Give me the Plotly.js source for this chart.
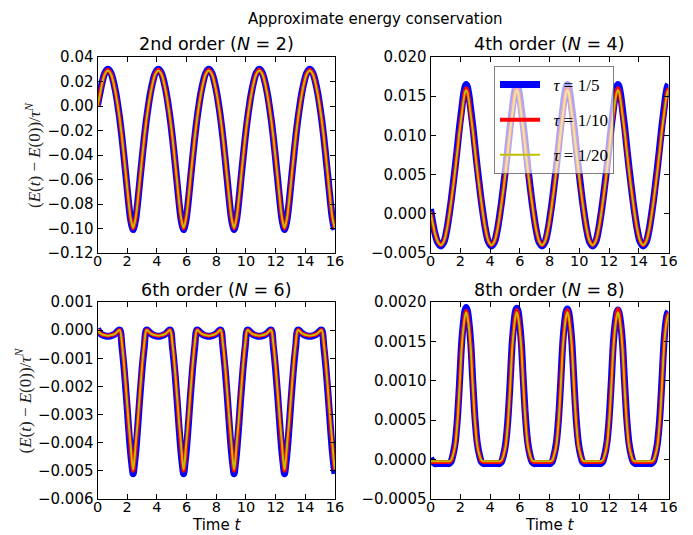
<!DOCTYPE html>
<html><head><meta charset="utf-8">
<script src="https://cdn.plot.ly/plotly-3.0.1.min.js"></script>
<style>html,body{margin:0;padding:0;background:#fff}#chart{width:693px;height:535px}</style>
</head><body><div id="chart"></div>
<script>
// time samples
const time = [0, 0.15, 0.3, 0.5,
0.7, 0.9, 1.1, 1.25, 1.37, 1.5, 1.65, 1.8, 1.95, 2.1, 2.22, 2.32, 2.4, 2.48, 2.58, 2.7, 2.85, 3.0, 3.15, 3.3, 3.43, 3.55, 3.7, 3.9,
4.1, 4.3, 4.5, 4.65, 4.77, 4.9, 5.05, 5.2, 5.35, 5.5, 5.62, 5.72, 5.8, 5.88, 5.98, 6.1, 6.25, 6.4, 6.55, 6.7, 6.83, 6.95, 7.1, 7.3,
7.5, 7.7, 7.9, 8.05, 8.17, 8.3, 8.45, 8.6, 8.75, 8.9, 9.02, 9.12, 9.2, 9.28, 9.38, 9.5, 9.65, 9.8, 9.95, 10.1, 10.23, 10.35, 10.5, 10.7,
10.9, 11.1, 11.3, 11.45, 11.57, 11.7, 11.85, 12.0, 12.15, 12.3, 12.42, 12.52, 12.6, 12.68, 12.78, 12.9, 13.05, 13.2, 13.35, 13.5, 13.63, 13.75, 13.9, 14.1,
14.3, 14.5, 14.7, 14.85, 14.97, 15.1, 15.25, 15.4, 15.55, 15.7, 15.82, 15.92, 16.0];

// 2nd order (N=2)
const n2_tau5 = [0.0008, 0.0098, 0.0186, 0.027,
0.0299, 0.027, 0.0186, 0.0096, 0.0004, -0.0108, -0.0261, -0.0433, -0.0614, -0.0796, -0.0918, -0.098, -0.1009, -0.098, -0.0918, -0.0796, -0.0614, -0.0433, -0.0261, -0.0108, 0.0004, 0.0096, 0.0186, 0.027,
0.0299, 0.027, 0.0186, 0.0096, 0.0004, -0.0108, -0.0261, -0.0433, -0.0614, -0.0796, -0.0918, -0.098, -0.1009, -0.098, -0.0918, -0.0796, -0.0614, -0.0433, -0.0261, -0.0108, 0.0004, 0.0096, 0.0186, 0.027,
0.0299, 0.027, 0.0186, 0.0096, 0.0004, -0.0108, -0.0261, -0.0433, -0.0614, -0.0796, -0.0918, -0.098, -0.1009, -0.098, -0.0918, -0.0796, -0.0614, -0.0433, -0.0261, -0.0108, 0.0004, 0.0096, 0.0186, 0.027,
0.0299, 0.027, 0.0186, 0.0096, 0.0004, -0.0108, -0.0261, -0.0433, -0.0614, -0.0796, -0.0918, -0.098, -0.1009, -0.098, -0.0918, -0.0796, -0.0614, -0.0433, -0.0261, -0.0108, 0.0004, 0.0096, 0.0186, 0.027,
0.0299, 0.027, 0.0186, 0.0096, 0.0004, -0.0108, -0.0261, -0.0433, -0.0614, -0.0796, -0.0918, -0.098, -0.1009];
const n2_tau10 = [0, 0.009, 0.018, 0.0265,
0.0295, 0.0265, 0.018, 0.009, 0, -0.011, -0.026, -0.043, -0.061, -0.079, -0.091, -0.097, -0.1, -0.097, -0.091, -0.079, -0.061, -0.043, -0.026, -0.011, 0, 0.009, 0.018, 0.0265,
0.0295, 0.0265, 0.018, 0.009, 0, -0.011, -0.026, -0.043, -0.061, -0.079, -0.091, -0.097, -0.1, -0.097, -0.091, -0.079, -0.061, -0.043, -0.026, -0.011, 0, 0.009, 0.018, 0.0265,
0.0295, 0.0265, 0.018, 0.009, 0, -0.011, -0.026, -0.043, -0.061, -0.079, -0.091, -0.097, -0.1, -0.097, -0.091, -0.079, -0.061, -0.043, -0.026, -0.011, 0, 0.009, 0.018, 0.0265,
0.0295, 0.0265, 0.018, 0.009, 0, -0.011, -0.026, -0.043, -0.061, -0.079, -0.091, -0.097, -0.1, -0.097, -0.091, -0.079, -0.061, -0.043, -0.026, -0.011, 0, 0.009, 0.018, 0.0265,
0.0295, 0.0265, 0.018, 0.009, 0, -0.011, -0.026, -0.043, -0.061, -0.079, -0.091, -0.097, -0.1];
const n2_tau20 = [-0.0002, 0.0087, 0.0177, 0.0261,
0.029, 0.0261, 0.0177, 0.0087, -0.0002, -0.0111, -0.0259, -0.0428, -0.0607, -0.0786, -0.0905, -0.0965, -0.0995, -0.0965, -0.0905, -0.0786, -0.0607, -0.0428, -0.0259, -0.0111, -0.0002, 0.0087, 0.0177, 0.0261,
0.029, 0.0261, 0.0177, 0.0087, -0.0002, -0.0111, -0.0259, -0.0428, -0.0607, -0.0786, -0.0905, -0.0965, -0.0995, -0.0965, -0.0905, -0.0786, -0.0607, -0.0428, -0.0259, -0.0111, -0.0002, 0.0087, 0.0177, 0.0261,
0.029, 0.0261, 0.0177, 0.0087, -0.0002, -0.0111, -0.0259, -0.0428, -0.0607, -0.0786, -0.0905, -0.0965, -0.0995, -0.0965, -0.0905, -0.0786, -0.0607, -0.0428, -0.0259, -0.0111, -0.0002, 0.0087, 0.0177, 0.0261,
0.029, 0.0261, 0.0177, 0.0087, -0.0002, -0.0111, -0.0259, -0.0428, -0.0607, -0.0786, -0.0905, -0.0965, -0.0995, -0.0965, -0.0905, -0.0786, -0.0607, -0.0428, -0.0259, -0.0111, -0.0002, 0.0087, 0.0177, 0.0261,
0.029, 0.0261, 0.0177, 0.0087, -0.0002, -0.0111, -0.0259, -0.0428, -0.0607, -0.0786, -0.0905, -0.0965, -0.0995];

// 4th order (N=4)
const n4_tau5 = [0.0006, -0.0011, -0.0025, -0.0037,
-0.0041, -0.0036, -0.002, -0.0002, 0.0014, 0.0034, 0.0058, 0.0084, 0.0111, 0.0134, 0.0152, 0.0162, 0.0165, 0.0162, 0.0152, 0.0134, 0.0111, 0.0084, 0.0058, 0.0034, 0.0014, -0.0002, -0.002, -0.0036,
-0.0041, -0.0036, -0.002, -0.0002, 0.0014, 0.0034, 0.0058, 0.0084, 0.0111, 0.0134, 0.0152, 0.0162, 0.0165, 0.0162, 0.0152, 0.0134, 0.0111, 0.0084, 0.0058, 0.0034, 0.0014, -0.0002, -0.002, -0.0036,
-0.0041, -0.0036, -0.002, -0.0002, 0.0014, 0.0034, 0.0058, 0.0084, 0.0111, 0.0134, 0.0152, 0.0162, 0.0165, 0.0162, 0.0152, 0.0134, 0.0111, 0.0084, 0.0058, 0.0034, 0.0014, -0.0002, -0.002, -0.0036,
-0.0041, -0.0036, -0.002, -0.0002, 0.0014, 0.0034, 0.0058, 0.0084, 0.0111, 0.0134, 0.0152, 0.0162, 0.0165, 0.0162, 0.0152, 0.0134, 0.0111, 0.0084, 0.0058, 0.0034, 0.0014, -0.0002, -0.002, -0.0036,
-0.0041, -0.0036, -0.002, -0.0002, 0.0014, 0.0034, 0.0058, 0.0084, 0.0111, 0.0134, 0.0152, 0.0162, 0.0165];
const n4_tau10 = [0.0003, -0.0012, -0.0025, -0.0036,
-0.004, -0.0035, -0.002, -0.0003, 0.0013, 0.0032, 0.0055, 0.008, 0.0106, 0.0128, 0.0146, 0.0157, 0.016, 0.0157, 0.0146, 0.0128, 0.0106, 0.008, 0.0055, 0.0032, 0.0013, -0.0003, -0.002, -0.0035,
-0.004, -0.0035, -0.002, -0.0003, 0.0013, 0.0032, 0.0055, 0.008, 0.0106, 0.0128, 0.0146, 0.0157, 0.016, 0.0157, 0.0146, 0.0128, 0.0106, 0.008, 0.0055, 0.0032, 0.0013, -0.0003, -0.002, -0.0035,
-0.004, -0.0035, -0.002, -0.0003, 0.0013, 0.0032, 0.0055, 0.008, 0.0106, 0.0128, 0.0146, 0.0157, 0.016, 0.0157, 0.0146, 0.0128, 0.0106, 0.008, 0.0055, 0.0032, 0.0013, -0.0003, -0.002, -0.0035,
-0.004, -0.0035, -0.002, -0.0003, 0.0013, 0.0032, 0.0055, 0.008, 0.0106, 0.0128, 0.0146, 0.0157, 0.016, 0.0157, 0.0146, 0.0128, 0.0106, 0.008, 0.0055, 0.0032, 0.0013, -0.0003, -0.002, -0.0035,
-0.004, -0.0035, -0.002, -0.0003, 0.0013, 0.0032, 0.0055, 0.008, 0.0106, 0.0128, 0.0146, 0.0157, 0.016];
const n4_tau20 = [0.0002, -0.0012, -0.0025, -0.0036,
-0.004, -0.0035, -0.002, -0.0003, 0.0013, 0.0031, 0.0054, 0.0079, 0.0105, 0.0127, 0.0144, 0.0155, 0.0158, 0.0155, 0.0144, 0.0127, 0.0105, 0.0079, 0.0054, 0.0031, 0.0013, -0.0003, -0.002, -0.0035,
-0.004, -0.0035, -0.002, -0.0003, 0.0013, 0.0031, 0.0054, 0.0079, 0.0105, 0.0127, 0.0144, 0.0155, 0.0158, 0.0155, 0.0144, 0.0127, 0.0105, 0.0079, 0.0054, 0.0031, 0.0013, -0.0003, -0.002, -0.0035,
-0.004, -0.0035, -0.002, -0.0003, 0.0013, 0.0031, 0.0054, 0.0079, 0.0105, 0.0127, 0.0144, 0.0155, 0.0158, 0.0155, 0.0144, 0.0127, 0.0105, 0.0079, 0.0054, 0.0031, 0.0013, -0.0003, -0.002, -0.0035,
-0.004, -0.0035, -0.002, -0.0003, 0.0013, 0.0031, 0.0054, 0.0079, 0.0105, 0.0127, 0.0144, 0.0155, 0.0158, 0.0155, 0.0144, 0.0127, 0.0105, 0.0079, 0.0054, 0.0031, 0.0013, -0.0003, -0.002, -0.0035,
-0.004, -0.0035, -0.002, -0.0003, 0.0013, 0.0031, 0.0054, 0.0079, 0.0105, 0.0127, 0.0144, 0.0155, 0.0158];

// 6th order (N=6)
const n6_tau5 = [0.00005, -0.0001, -0.00016, -0.0002,
-0.00022, -0.0002, -0.00016, -0.0001, -0.00003, 0, -0.0006, -0.0014, -0.0024, -0.0035, -0.0043, -0.0048, -0.0051, -0.0048, -0.0043, -0.0035, -0.0024, -0.0014, -0.0006, 0, -0.00003, -0.0001, -0.00016, -0.0002,
-0.00022, -0.0002, -0.00016, -0.0001, -0.00003, 0, -0.0006, -0.0014, -0.0024, -0.0035, -0.0043, -0.0048, -0.0051, -0.0048, -0.0043, -0.0035, -0.0024, -0.0014, -0.0006, 0, -0.00003, -0.0001, -0.00016, -0.0002,
-0.00022, -0.0002, -0.00016, -0.0001, -0.00003, 0, -0.0006, -0.0014, -0.0024, -0.0035, -0.0043, -0.0048, -0.0051, -0.0048, -0.0043, -0.0035, -0.0024, -0.0014, -0.0006, 0, -0.00003, -0.0001, -0.00016, -0.0002,
-0.00022, -0.0002, -0.00016, -0.0001, -0.00003, 0, -0.0006, -0.0014, -0.0024, -0.0035, -0.0043, -0.0048, -0.0051, -0.0048, -0.0043, -0.0035, -0.0024, -0.0014, -0.0006, 0, -0.00003, -0.0001, -0.00016, -0.0002,
-0.00022, -0.0002, -0.00016, -0.0001, -0.00003, 0, -0.0006, -0.0014, -0.0024, -0.0035, -0.0043, -0.0048, -0.0051];
const n6_tau10 = [0.00003, -0.0001, -0.00015, -0.00018,
-0.0002, -0.00018, -0.00015, -0.0001, -0.00004, 0, -0.0005, -0.0013, -0.0023, -0.0034, -0.0041, -0.0047, -0.005, -0.0047, -0.0041, -0.0034, -0.0023, -0.0013, -0.0005, 0, -0.00004, -0.0001, -0.00015, -0.00018,
-0.0002, -0.00018, -0.00015, -0.0001, -0.00004, 0, -0.0005, -0.0013, -0.0023, -0.0034, -0.0041, -0.0047, -0.005, -0.0047, -0.0041, -0.0034, -0.0023, -0.0013, -0.0005, 0, -0.00004, -0.0001, -0.00015, -0.00018,
-0.0002, -0.00018, -0.00015, -0.0001, -0.00004, 0, -0.0005, -0.0013, -0.0023, -0.0034, -0.0041, -0.0047, -0.005, -0.0047, -0.0041, -0.0034, -0.0023, -0.0013, -0.0005, 0, -0.00004, -0.0001, -0.00015, -0.00018,
-0.0002, -0.00018, -0.00015, -0.0001, -0.00004, 0, -0.0005, -0.0013, -0.0023, -0.0034, -0.0041, -0.0047, -0.005, -0.0047, -0.0041, -0.0034, -0.0023, -0.0013, -0.0005, 0, -0.00004, -0.0001, -0.00015, -0.00018,
-0.0002, -0.00018, -0.00015, -0.0001, -0.00004, 0, -0.0005, -0.0013, -0.0023, -0.0034, -0.0041, -0.0047, -0.005];
const n6_tau20 = [0.00002, -0.0001, -0.00015, -0.00018,
-0.0002, -0.00018, -0.00015, -0.0001, -0.00004, 0, -0.0005, -0.0013, -0.0023, -0.0033, -0.004, -0.00465, -0.00495, -0.00465, -0.004, -0.0033, -0.0023, -0.0013, -0.0005, 0, -0.00004, -0.0001, -0.00015, -0.00018,
-0.0002, -0.00018, -0.00015, -0.0001, -0.00004, 0, -0.0005, -0.0013, -0.0023, -0.0033, -0.004, -0.00465, -0.00495, -0.00465, -0.004, -0.0033, -0.0023, -0.0013, -0.0005, 0, -0.00004, -0.0001, -0.00015, -0.00018,
-0.0002, -0.00018, -0.00015, -0.0001, -0.00004, 0, -0.0005, -0.0013, -0.0023, -0.0033, -0.004, -0.00465, -0.00495, -0.00465, -0.004, -0.0033, -0.0023, -0.0013, -0.0005, 0, -0.00004, -0.0001, -0.00015, -0.00018,
-0.0002, -0.00018, -0.00015, -0.0001, -0.00004, 0, -0.0005, -0.0013, -0.0023, -0.0033, -0.004, -0.00465, -0.00495, -0.00465, -0.004, -0.0033, -0.0023, -0.0013, -0.0005, 0, -0.00004, -0.0001, -0.00015, -0.00018,
-0.0002, -0.00018, -0.00015, -0.0001, -0.00004, 0, -0.0005, -0.0013, -0.0023, -0.0033, -0.004, -0.00465, -0.00495];

// 8th order (N=8)
const n8_tau5 = [0.00002, -0.00003, -0.00005, -0.00005,
-0.00005, -0.00005, -0.00005, -0.00005, -0.00003, 0.00005, 0.0002, 0.0005, 0.00097, 0.0015, 0.00175, 0.00189, 0.00193, 0.00189, 0.00175, 0.0015, 0.00097, 0.0005, 0.0002, 0.00005, -0.00003, -0.00005, -0.00005, -0.00005,
-0.00005, -0.00005, -0.00005, -0.00005, -0.00003, 0.00005, 0.0002, 0.0005, 0.00097, 0.0015, 0.00175, 0.00189, 0.00192, 0.00189, 0.00175, 0.0015, 0.00097, 0.0005, 0.0002, 0.00005, -0.00003, -0.00005, -0.00005, -0.00005,
-0.00005, -0.00005, -0.00005, -0.00005, -0.00003, 0.00005, 0.0002, 0.0005, 0.00097, 0.0015, 0.00175, 0.00188, 0.00191, 0.00188, 0.00175, 0.0015, 0.00097, 0.0005, 0.0002, 0.00005, -0.00003, -0.00005, -0.00005, -0.00005,
-0.00005, -0.00005, -0.00005, -0.00005, -0.00003, 0.00005, 0.0002, 0.0005, 0.00097, 0.0015, 0.00174, 0.00186, 0.0019, 0.00186, 0.00174, 0.0015, 0.00097, 0.0005, 0.0002, 0.00005, -0.00003, -0.00005, -0.00005, -0.00005,
-0.00005, -0.00005, -0.00005, -0.00005, -0.00003, 0.00005, 0.0002, 0.0005, 0.00097, 0.0015, 0.00174, 0.00185, 0.00188];
const n8_tau10 = [-0.00002, -0.00003, -0.00003, -0.00003,
-0.00003, -0.00003, -0.00003, -0.00003, -0.00002, 0.00005, 0.00018, 0.00047, 0.00093, 0.00145, 0.0017, 0.00184, 0.00189, 0.00184, 0.0017, 0.00145, 0.00093, 0.00047, 0.00018, 0.00005, -0.00002, -0.00003, -0.00003, -0.00003,
-0.00003, -0.00003, -0.00003, -0.00003, -0.00002, 0.00005, 0.00018, 0.00047, 0.00093, 0.00145, 0.0017, 0.00185, 0.0019, 0.00185, 0.0017, 0.00145, 0.00093, 0.00047, 0.00018, 0.00005, -0.00002, -0.00003, -0.00003, -0.00003,
-0.00003, -0.00003, -0.00003, -0.00003, -0.00002, 0.00005, 0.00018, 0.00047, 0.00093, 0.00145, 0.0017, 0.00185, 0.0019, 0.00185, 0.0017, 0.00145, 0.00093, 0.00047, 0.00018, 0.00005, -0.00002, -0.00003, -0.00003, -0.00003,
-0.00003, -0.00003, -0.00003, -0.00003, -0.00002, 0.00005, 0.00018, 0.00047, 0.00093, 0.00145, 0.00171, 0.00186, 0.00191, 0.00186, 0.00171, 0.00145, 0.00093, 0.00047, 0.00018, 0.00005, -0.00002, -0.00003, -0.00003, -0.00003,
-0.00003, -0.00003, -0.00003, -0.00003, -0.00002, 0.00005, 0.00018, 0.00047, 0.00093, 0.00145, 0.0017, 0.00182, 0.00186];
const n8_tau20 = [-0.00002, -0.00002, -0.00002, -0.00002,
-0.00002, -0.00002, -0.00002, -0.00002, -0.00001, 0.00005, 0.00017, 0.00046, 0.00091, 0.00143, 0.00168, 0.00182, 0.00187, 0.00182, 0.00168, 0.00143, 0.00091, 0.00046, 0.00017, 0.00005, -0.00001, -0.00002, -0.00002, -0.00002,
-0.00002, -0.00002, -0.00002, -0.00002, -0.00001, 0.00005, 0.00017, 0.00046, 0.00091, 0.00143, 0.00168, 0.00182, 0.00187, 0.00182, 0.00168, 0.00143, 0.00091, 0.00046, 0.00017, 0.00005, -0.00001, -0.00002, -0.00002, -0.00002,
-0.00002, -0.00002, -0.00002, -0.00002, -0.00001, 0.00005, 0.00017, 0.00046, 0.00091, 0.00143, 0.00168, 0.00182, 0.00187, 0.00182, 0.00168, 0.00143, 0.00091, 0.00046, 0.00017, 0.00005, -0.00001, -0.00002, -0.00002, -0.00002,
-0.00002, -0.00002, -0.00002, -0.00002, -0.00001, 0.00005, 0.00017, 0.00046, 0.00091, 0.00143, 0.00168, 0.00182, 0.00187, 0.00182, 0.00168, 0.00143, 0.00091, 0.00046, 0.00017, 0.00005, -0.00001, -0.00002, -0.00002, -0.00002,
-0.00002, -0.00002, -0.00002, -0.00002, -0.00001, 0.00005, 0.00017, 0.00046, 0.00091, 0.00143, 0.00168, 0.0018, 0.00185];

// labels
const seriesNames = ['\u00a0\u00a0<i>τ</i> = 1/5', '\u00a0\u00a0<i>τ</i> = 1/10', '\u00a0\u00a0<i>τ</i> = 1/20'];
const panelTitles = ['2nd order (<i>N</i> = 2)', '4th order (<i>N</i> = 4)', '6th order (<i>N</i> = 6)', '8th order (<i>N</i> = 8)'];
const figTitle = 'Approximate energy conservation';
const yLabel = '(<i>E</i>(<i>t</i>) − <i>E</i>(0))/<i>τ</i><sup><i>N</i></sup>';
const xLabel = 'Time <i>t</i>';
const xTickVals = [0, 2, 4, 6, 8, 10, 12, 14, 16];
const xTickText = ['0', '2', '4', '6', '8', '10', '12', '14', '16'];
const y1TickVals = [0.04, 0.02, 0, -0.02, -0.04, -0.06, -0.08, -0.10, -0.12];
const y1TickText = ['0.04', '0.02', '0.00', '−0.02', '−0.04', '−0.06', '−0.08', '−0.10', '−0.12'];
const y2TickVals = [0.020, 0.015, 0.010, 0.005, 0, -0.005];
const y2TickText = ['0.020', '0.015', '0.010', '0.005', '0.000', '−0.005'];
const y3TickVals = [0.001, 0, -0.001, -0.002, -0.003, -0.004, -0.005, -0.006];
const y3TickText = ['0.001', '0.000', '−0.001', '−0.002', '−0.003', '−0.004', '−0.005', '−0.006'];
const y4TickVals = [0.0020, 0.0015, 0.0010, 0.0005, 0, -0.0005];
const y4TickText = ['0.0020', '0.0015', '0.0010', '0.0005', '0.0000', '−0.0005'];

const colors = ['#0000ff', '#ff0000', '#bfbf00'];
const widths = [7, 4, 2];
const panels = [
  [n2_tau5, n2_tau10, n2_tau20],
  [n4_tau5, n4_tau10, n4_tau20],
  [n6_tau5, n6_tau10, n6_tau20],
  [n8_tau5, n8_tau10, n8_tau20]
];

const traces = [];
panels.forEach((series, p) => {
  series.forEach((ys, i) => {
    traces.push({
      type: 'scatter', mode: 'lines', x: time, y: ys,
      xaxis: p === 0 ? 'x' : 'x' + (p + 1), yaxis: p === 0 ? 'y' : 'y' + (p + 1),
      name: seriesNames[i], legendgroup: 'g' + i,
      showlegend: p === 1,
      line: {color: colors[i], width: widths[i], shape: 'spline', smoothing: 1},
      hoverinfo: 'skip'
    });
  });
});

const W = 693, H = 535;
const px = v => v / W, py = v => 1 - v / H;
const axBase = {
  showline: true, linecolor: '#000', linewidth: 1, mirror: 'ticks',
  ticks: 'inside', ticklen: 5, tickwidth: 1, tickcolor: '#000',
  showgrid: false, zeroline: false, automargin: false, fixedrange: true,
  tickfont: {family: 'DejaVu Sans', size: 15, color: '#000'}, tickmode: 'array'
};
const xL = [px(97.5), px(335)], xR = [px(430.5), px(668.5)];
const yT = [py(253), py(57)], yB = [py(499), py(302)];
function xa(dom, anchor) { return Object.assign({}, axBase, {domain: dom, anchor: anchor, range: [0, 16], tickvals: xTickVals, ticktext: xTickText, ticklabelstandoff: -5, tickfont: {family: 'DejaVu Sans', size: 14.5, color: '#000'}}); }
function ya(dom, anchor, rng, tv, tt) { return Object.assign({}, axBase, {domain: dom, anchor: anchor, range: rng, tickvals: tv, ticktext: tt}); }

const serif = 'Liberation Serif';
const ann = [];
ann.push({text: figTitle, x: px(375), y: py(19), xref: 'paper', yref: 'paper', xanchor: 'center', yanchor: 'middle', showarrow: false, font: {family: 'DejaVu Sans', size: 15, color: '#000'}});
const tPos = [[216, 44], [549.5, 44], [216, 290], [549.5, 290]];
panelTitles.forEach((t, i) => {
  ann.push({text: t, x: px(tPos[i][0]), y: py(tPos[i][1]), xref: 'paper', yref: 'paper', xanchor: 'center', yanchor: 'middle', showarrow: false, font: {family: 'DejaVu Sans', size: 17.5, color: '#000'}});
});
[[33, 155], [23, 400.5]].forEach(p => {
  ann.push({text: yLabel, x: px(p[0]), y: py(p[1]), xref: 'paper', yref: 'paper', xanchor: 'center', yanchor: 'middle', textangle: -90, showarrow: false, font: {family: serif, size: 17, color: '#222'}});
});
[216, 549.5].forEach(cx => {
  ann.push({text: xLabel, x: px(cx), y: 0, xref: 'paper', yref: 'paper', xanchor: 'center', yanchor: 'bottom', showarrow: false, borderpad: 0, font: {family: 'DejaVu Sans', size: 15, color: '#000'}});
});

const layout = {
  width: W, height: H, margin: {l: 0, r: 0, t: 0, b: 0},
  paper_bgcolor: '#fff', plot_bgcolor: '#fff',
  xaxis: xa(xL, 'y'), yaxis: ya(yT, 'x', [-0.12, 0.04], y1TickVals, y1TickText),
  xaxis2: xa(xR, 'y2'), yaxis2: ya(yT, 'x2', [-0.005, 0.020], y2TickVals, y2TickText),
  xaxis3: xa(xL, 'y3'), yaxis3: ya(yB, 'x3', [-0.006, 0.001], y3TickVals, y3TickText),
  xaxis4: xa(xR, 'y4'), yaxis4: ya(yB, 'x4', [-0.0005, 0.0020], y4TickVals, y4TickText),
  showlegend: true,
  legend: {x: px(494), y: py(66), xanchor: 'left', yanchor: 'top', bgcolor: 'rgba(255,255,255,0.65)', bordercolor: 'rgba(0,0,0,0.5)', borderwidth: 1, font: {family: serif, size: 17, color: '#000'}, traceorder: 'grouped', tracegroupgap: 10, itemwidth: 40},
  annotations: ann
};
Plotly.newPlot('chart', traces, layout, {displayModeBar: false, staticPlot: true});
</script>
</body></html>
